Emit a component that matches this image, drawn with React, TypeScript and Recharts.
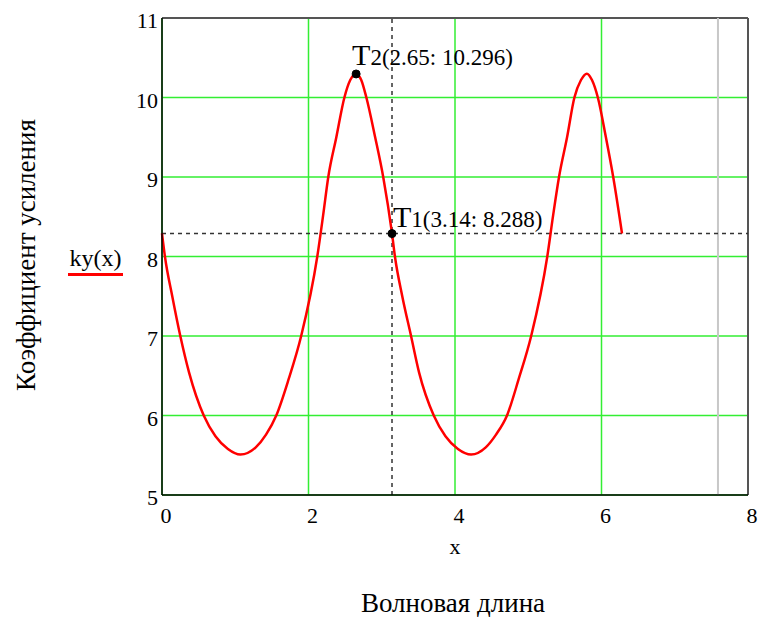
import React from "react";
import {
  LineChart,
  Line,
  XAxis,
  YAxis,
  CartesianGrid,
  ReferenceLine,
  ReferenceDot,
} from "recharts";

// values
const xVals = [
  0, 0.04, 0.14, 0.25, 0.37, 0.57, 0.73, 0.9, 1.07, 1.28, 1.42, 1.56, 1.73, 1.9,
  2.12, 2.2, 2.27, 2.38, 2.49, 2.57, 2.65, 2.72, 2.79, 2.91, 3.02, 3.14,
  3.18, 3.28, 3.4, 3.51, 3.71, 3.87, 4.04, 4.22, 4.42, 4.56, 4.71, 4.87, 5.04,
  5.26, 5.34, 5.42, 5.53, 5.63, 5.72, 5.8, 5.87, 5.95, 6.06, 6.16, 6.28,
];
const kyVals = [
  8.29, 8.0, 7.5, 7.0, 6.54, 6.0, 5.74, 5.58, 5.51, 5.6, 5.76, 6.0, 6.46, 7.0,
  8.0, 8.52, 9.0, 9.5, 10.0, 10.22, 10.3, 10.22, 10.0, 9.5, 9.0, 8.29,
  8.0, 7.5, 7.0, 6.54, 6.0, 5.74, 5.58, 5.51, 5.6, 5.76, 6.0, 6.46, 7.0,
  8.0, 8.52, 9.0, 9.5, 10.0, 10.22, 10.3, 10.22, 10.0, 9.5, 9.0, 8.29,
];
const xTicks = [0, 2, 4, 6, 8];
const yTicks = [5, 6, 7, 8, 9, 10, 11];

const t1 = { x: 3.14, y: 8.288, name: "1", text: "(3.14: 8.288)" };
const t2 = { x: 2.65, y: 10.296, name: "2", text: "(2.65: 10.296)" };
const markerX = 7.59;

const data = xVals.map((x, i) => ({ x, ky: kyVals[i] }));

const serif = '"Liberation Serif", "Times New Roman", serif';

function PointLabel(props: any) {
  const { viewBox, sub, text, dx, dy } = props;
  if (!viewBox) return null;
  const cx = viewBox.x + viewBox.width / 2;
  const cy = viewBox.y + viewBox.height / 2;
  return (
    <text
      x={cx + dx}
      y={cy + dy}
      fill="#000"
      style={{ fontFamily: serif }}
    >
      <tspan fontSize={30}>T</tspan>
      <tspan fontSize={23}>{sub}</tspan>
      <tspan fontSize={23}>{text}</tspan>
    </text>
  );
}

function XTick(props: any) {
  const { x, y, payload } = props;
  return (
    <text
      x={x + 4}
      y={y + 28}
      textAnchor="middle"
      fill="#000"
      fontSize={22}
      style={{ fontFamily: serif }}
    >
      {payload.value}
    </text>
  );
}

function YTick(props: any) {
  const { x, y, payload } = props;
  return (
    <text
      x={x - 4}
      y={y + 10}
      textAnchor="end"
      fill="#000"
      fontSize={22}
      style={{ fontFamily: serif }}
    >
      {payload.value}
    </text>
  );
}

export default function App() {
  return (
    <div
      style={{
        position: "absolute",
        left: 0,
        top: 0,
        width: 759,
        height: 617,
        background: "#fff",
        fontFamily: serif,
      }}
    >
      <LineChart
        width={759}
        height={617}
        data={data}
        margin={{ top: 18, right: 11, bottom: 0, left: 0 }}
      >
        <CartesianGrid stroke="#33ee33" strokeWidth={1.5} />
        <XAxis
          type="number"
          dataKey="x"
          domain={[0, 8]}
          ticks={xTicks}
          height={122}
          tickLine={false}
          tickSize={0}
          tickMargin={0}
          axisLine={{ stroke: "#000", strokeWidth: 1.5 }}
          tick={(p: any) => <XTick {...p} />}
        />
        <YAxis
          type="number"
          domain={[5, 11]}
          ticks={yTicks}
          width={162}
          tickLine={false}
          tickSize={0}
          tickMargin={0}
          axisLine={{ stroke: "#000", strokeWidth: 1.5 }}
          tick={(p: any) => <YTick {...p} />}
        />
        <ReferenceLine y={11} stroke="#555" strokeWidth={2} />
        <ReferenceLine x={8} stroke="#555" strokeWidth={2} />
        <ReferenceLine x={markerX} stroke="#c8c8c8" strokeWidth={2} />
        <ReferenceLine
          x={t1.x}
          stroke="#333"
          strokeWidth={1.5}
          strokeDasharray="4 4"
        />
        <ReferenceLine
          y={t1.y}
          stroke="#333"
          strokeWidth={1.5}
          strokeDasharray="4 4"
        />
        <Line
          dataKey="ky"
          type="monotone"
          stroke="#ff0000"
          strokeWidth={2.5}
          dot={false}
          isAnimationActive={false}
        />
        <ReferenceDot
          x={t2.x}
          y={t2.y}
          r={4}
          fill="#000"
          stroke="#000"
          label={<PointLabel sub={t2.name} text={t2.text} dx={-4} dy={-9} />}
        />
        <ReferenceDot
          x={t1.x}
          y={t1.y}
          r={4}
          fill="#000"
          stroke="#000"
          label={<PointLabel sub={t1.name} text={t1.text} dx={1} dy={-7} />}
        />
      </LineChart>

      <div
        style={{
          position: "absolute",
          left: 68,
          top: 244,
          width: 55,
          fontSize: 24,
          color: "#000",
          textAlign: "center",
          lineHeight: "29px",
          borderBottom: "3px solid #ff0000",
        }}
      >
        ky(x)
      </div>
      <div
        style={{
          position: "absolute",
          left: 26,
          top: 255,
          fontSize: 27,
          color: "#000",
          whiteSpace: "nowrap",
          transform: "translate(-50%, -50%) rotate(-90deg)",
        }}
      >
        Коэффициент усиления
      </div>
      <div
        style={{
          position: "absolute",
          left: 455,
          top: 547,
          fontSize: 22,
          color: "#000",
          transform: "translate(-50%, -50%)",
        }}
      >
        x
      </div>
      <div
        style={{
          position: "absolute",
          left: 453,
          top: 603,
          fontSize: 27,
          color: "#000",
          whiteSpace: "nowrap",
          transform: "translate(-50%, -50%)",
        }}
      >
        Волновая длина
      </div>
    </div>
  );
}
